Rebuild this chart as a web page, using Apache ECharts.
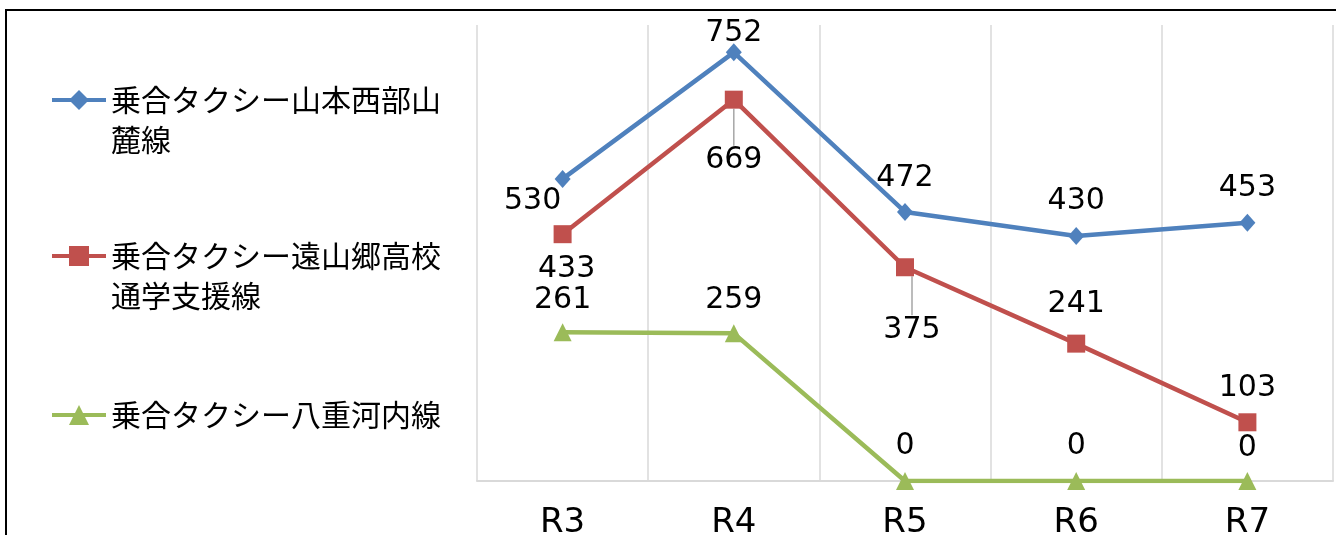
<!DOCTYPE html>
<html>
<head>
<meta charset="utf-8">
<script src="https://cdn.jsdelivr.net/npm/echarts@6/dist/echarts.min.js"></script>
<style>html,body{margin:0;padding:0;background:#fff;}#c{width:1336px;height:535px;}</style>
</head>
<body>
<div id="c"></div>
<script>
// ---- data ----
var categories = ['R3', 'R4', 'R5', 'R6', 'R7'];
var seriesNames = ['乗合タクシー山本西部山麓線', '乗合タクシー遠山郷高校通学支援線', '乗合タクシー八重河内線'];
var legendTexts = ['乗合タクシー山本西部山\n麓線', '乗合タクシー遠山郷高校\n通学支援線', '乗合タクシー八重河内線'];
var yamamoto = [530, 752, 472, 430, 453];
var toyama = [433, 669, 375, 241, 103];
var yaegochi = [261, 259, 0, 0, 0];

// ---- styling (label placements, px relative to point) ----
var labelOffsets = [
  [[-30, 22], [0, -19], [0, -34], [0, -35], [0, -35]],
  [[4, 35], [0, 61], [7, 63], [0, -39], [0, -34]],
  [[0, -32], [0, -33], [0, -35], [0, -35], [0, -33]]
];
var leader = [
  [false, false, false, false, false],
  [false, true, true, false, false],
  [false, false, false, false, false]
];
var colors = ['#4F81BD', '#C0504D', '#9BBB59'];
var symbols = ['diamond', 'rect', 'triangle'];
var symbolSizes = [[16, 18], 18, 18];
var values = [yamamoto, toyama, yaegochi];

var chart = echarts.init(document.getElementById('c'), null, {renderer: 'canvas'});

var series = values.map(function (vals, si) {
  return {
    name: seriesNames[si],
    type: 'line',
    data: vals.map(function (v, i) {
      return {value: v, labelLine: {show: leader[si][i]}};
    }),
    color: colors[si],
    symbol: symbols[si],
    symbolSize: symbolSizes[si],
    showAllSymbol: true,
    lineStyle: {width: 4.5, color: colors[si]},
    itemStyle: {color: colors[si]},
    z: 10 - si,
    label: {
      show: true,
      position: 'inside',
      color: '#000',
      fontFamily: 'DejaVu Sans',
      fontSize: 30
    },
    labelLine: {show: false, lineStyle: {color: '#a6a6a6', width: 1.5}},
    labelLayout: function (p) {
      var o = labelOffsets[p.seriesIndex][p.dataIndex];
      return {dx: o[0], dy: o[1]};
    },
    emphasis: {disabled: true},
    animation: false
  };
});

var legendTops = [40, 196, 395];
var legends = seriesNames.map(function (n, i) {
  return {
    data: [n],
    orient: 'vertical',
    left: 50,
    top: legendTops[i],
    padding: 0,
    itemWidth: 54,
    itemHeight: 25,
    selectedMode: false,
    lineStyle: {width: 4},
    formatter: function () {
      return i < 2 ? '\n' + legendTexts[i] : legendTexts[i];
    },
    textStyle: {
      fontFamily: 'Noto Sans CJK JP',
      fontSize: 30,
      lineHeight: 40,
      color: '#000'
    }
  };
});

chart.setOption({
  backgroundColor: '#fff',
  animation: false,
  graphic: [{
    type: 'rect',
    shape: {x: 6, y: 10, width: 1400, height: 600},
    style: {fill: 'none', stroke: '#000', lineWidth: 2},
    silent: true
  }],
  legend: legends,
  grid: {left: 477, right: 3, top: 25, bottom: 54, outerBoundsMode: 'none', containLabel: false},
  xAxis: {
    type: 'category',
    data: categories,
    boundaryGap: true,
    axisLine: {show: true, lineStyle: {color: '#d9d9d9', width: 2}},
    axisTick: {show: false},
    splitLine: {show: true, lineStyle: {color: '#d9d9d9', width: 1.5}},
    axisLabel: {
      color: '#000',
      fontFamily: 'DejaVu Sans',
      fontSize: 34,
      margin: 25
    }
  },
  yAxis: {
    type: 'value',
    min: 0,
    max: 800,
    interval: 100,
    show: false,
    splitLine: {show: false}
  },
  series: series
});
</script>
</body>
</html>
